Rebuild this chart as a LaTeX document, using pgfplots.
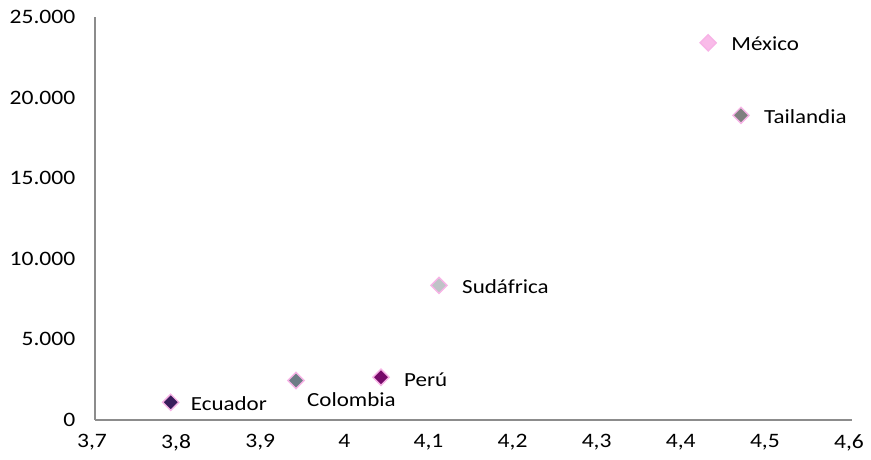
\documentclass[border=0pt]{standalone}
\usepackage{pgfplots}
\pgfplotsset{compat=1.18}
\usepackage{fontspec}
\setmainfont{Carlito}[FakeStretch=1.15]
\definecolor{pinkb}{HTML}{F7B3E6}
\definecolor{ecu}{HTML}{3A1D5C}
\definecolor{col}{HTML}{6E7D86}
\definecolor{per}{HTML}{770A6A}
\definecolor{sud}{HTML}{BFC3C7}
\definecolor{mex}{HTML}{F9BBE9}
\definecolor{tai}{HTML}{7F7F7F}
\definecolor{axgray}{HTML}{8C8C8C}
\pgfplotsset{mk/.style={mark options={rotate=45, draw=pinkb, line width=1.4pt, fill=#1}}}
\begin{document}
\fontsize{19.5}{22}\selectfont
\begin{tikzpicture}[x=1pt,y=1pt]
\useasboundingbox (0,0) rectangle (871,460);
\begin{axis}[
  at={(95pt,40pt)}, anchor=south west,
  scale only axis, width=757pt, height=403pt,
  xmin=3.7, xmax=4.6, ymin=0, ymax=25000,
  xtick={3.7,3.8,...,4.61}, ytick={0,5000,...,25000},
  axis x line*=bottom, axis y line*=left,
  axis line style={draw=axgray, line width=1.1pt, -},
  major tick length=0pt,
  scaled ticks=false,
  xticklabel style={/pgf/number format/use comma, /pgf/number format/fixed, /pgf/number format/precision=1, /pgf/number format/assume math mode=true, yshift=-8pt, xshift=-3pt},
  yticklabel style={/pgf/number format/1000 sep={.}, /pgf/number format/fixed, /pgf/number format/assume math mode=true, xshift=-13pt},
  tick label style={font=\fontsize{20.5}{22}\selectfont},
  clip=false,
  every axis plot/.append style={only marks, mark=square*, mark size=5.7pt},
  nodes near coords, point meta=explicit symbolic,
  every node near coord/.append style={anchor=west, font=\fontsize{20}{22}\selectfont, text=black},
]
\addplot[mk=ecu, every node near coord/.append style={xshift=13pt, yshift=-1pt}] coordinates {(3.79,1100) [Ecuador]};
\addplot[mk=col, every node near coord/.append style={xshift=4pt, yshift=-19pt}] coordinates {(3.939,2450) [Colombia]};
\addplot[mk=per, every node near coord/.append style={xshift=16pt, yshift=-2pt}] coordinates {(4.04,2650) [Perú]};
\addplot[mk=sud, every node near coord/.append style={xshift=16pt, yshift=-1pt}] coordinates {(4.109,8350) [Sudáfrica]};
\addplot[mk=mex, every node near coord/.append style={xshift=16pt, yshift=-1pt}] coordinates {(4.429,23400) [México]};
\addplot[mk=tai, every node near coord/.append style={xshift=16pt, yshift=-1pt}] coordinates {(4.468,18900) [Tailandia]};
\end{axis}
\end{tikzpicture}
\end{document}
